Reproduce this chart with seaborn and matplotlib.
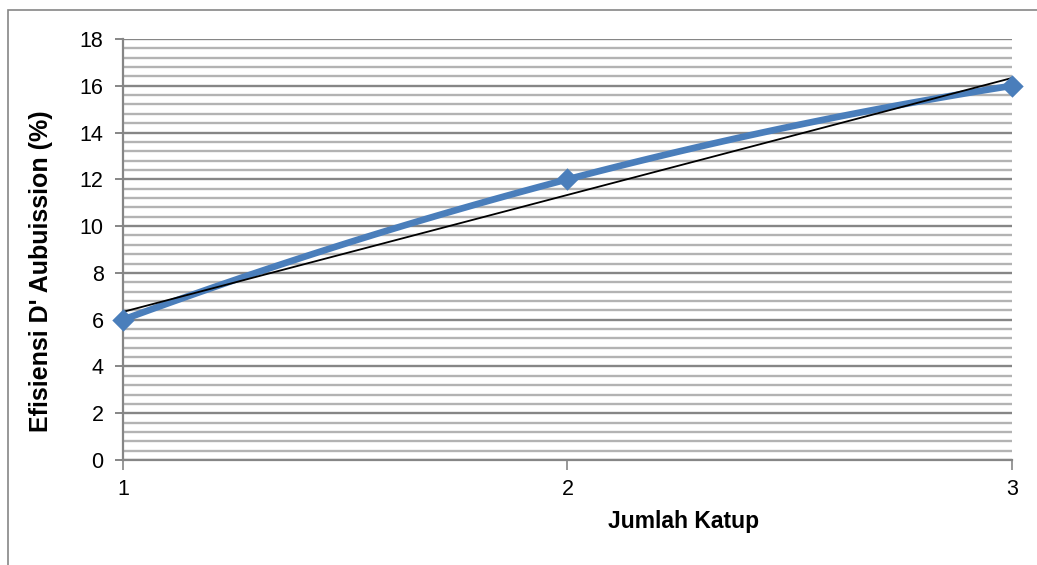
import numpy as np
import pandas as pd
import matplotlib
matplotlib.use("Agg")
import matplotlib.pyplot as plt
import seaborn as sns
from matplotlib.patches import Rectangle
from matplotlib.ticker import MultipleLocator

jumlah_katup = [1, 2, 3]
efisiensi = [6, 12, 16]

df = pd.DataFrame({"Jumlah Katup": jumlah_katup, "Efisiensi": efisiensi})

sns.set_style("white")
plt.rcParams["font.family"] = ["Liberation Sans", "DejaVu Sans"]

fig = plt.figure(figsize=(10.37, 5.65), dpi=100)
ax = fig.add_axes([0.1186, 0.1858, 0.8573, 0.7452])

# outer chart border
fig.patches.append(Rectangle((8 / 1037, -0.05), 1.1, 1 - 10 / 565 + 0.05,
                             transform=fig.transFigure, fill=False,
                             edgecolor="#868686", linewidth=1.2, zorder=0))

blue = "#4A7EBB"
# smoothed series (quadratic through the three points)
sns.regplot(data=df, x="Jumlah Katup", y="Efisiensi", order=2, ci=None,
            scatter=False, truncate=True, ax=ax,
            line_kws={"color": blue, "linewidth": 4.8, "solid_capstyle": "round", "zorder": 3})
# linear trendline
sns.regplot(data=df, x="Jumlah Katup", y="Efisiensi", order=1, ci=None,
            scatter=False, truncate=True, ax=ax,
            line_kws={"color": "black", "linewidth": 1.3, "zorder": 4})
sns.scatterplot(data=df, x="Jumlah Katup", y="Efisiensi", marker="D", s=130,
                color=blue, edgecolor=blue, linewidth=0, ax=ax, zorder=5, clip_on=False)

ax.set_xlim(1, 3)
ax.set_ylim(0, 18)
ax.set_xticks(jumlah_katup)
ax.yaxis.set_major_locator(MultipleLocator(2))
ax.yaxis.set_minor_locator(MultipleLocator(0.4))

ax.grid(axis="y", which="major", color="#868686", linewidth=1.7, zorder=0)
ax.grid(axis="y", which="minor", color="#b3b3b3", linewidth=1.7, zorder=0)
ax.grid(axis="x", visible=False)
ax.set_axisbelow(True)

for side in ["top", "right"]:
    ax.spines[side].set_visible(False)
for side in ["left", "bottom"]:
    ax.spines[side].set_color("#868686")
    ax.spines[side].set_linewidth(1.6)

ax.tick_params(axis="y", which="major", length=6, width=1.4, color="#868686",
               labelcolor="black", labelsize=15.5, pad=8, left=True)
ax.tick_params(axis="y", which="minor", length=0)
ax.tick_params(axis="x", which="major", length=7, width=1.2, color="#868686",
               labelcolor="black", labelsize=15.5, pad=7, bottom=True, direction="out")

ax.set_xlabel("Jumlah Katup", fontsize=16.5, fontweight="bold", color="black")
ax.xaxis.set_label_coords(0.631, -0.119)
ax.set_ylabel("Efisiensi D' Aubuission (%)", fontsize=18, fontweight="bold", color="black")
ax.yaxis.set_label_coords(-0.0787, 0.449)

fig.savefig("out.png", dpi=100)
